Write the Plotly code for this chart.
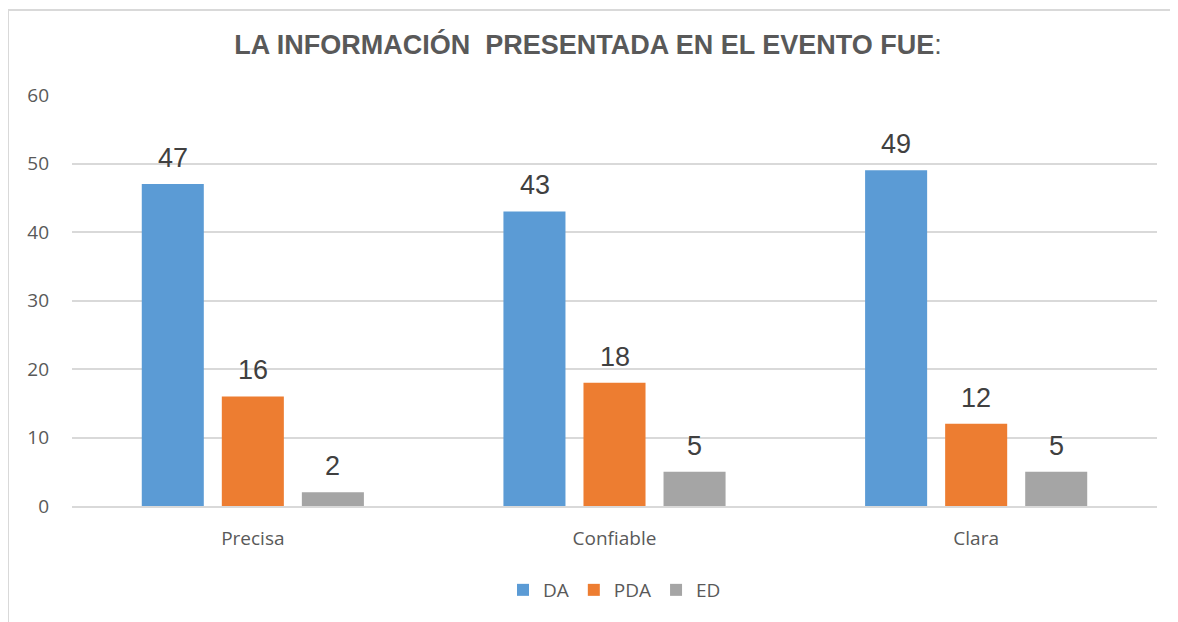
import plotly.graph_objects as go

categories = ["Precisa", "Confiable", "Clara"]
da = [47, 43, 49]
pda = [16, 18, 12]
ed = [2, 5, 5]

series = [("DA", da, "#5B9BD5"), ("PDA", pda, "#ED7D31"), ("ED", ed, "#A5A5A5")]

fig = go.Figure()
annotations = []
for i, (name, vals, color) in enumerate(series):
    fig.add_trace(
        go.Bar(
            x=categories,
            y=vals,
            name=name,
            marker=dict(color=color, line=dict(width=0)),
        )
    )
    # value labels sit a bit higher than plotly's outside text
    for cat, v in zip(categories, vals):
        annotations.append(
            dict(
                x=cat,
                y=v,
                xref="x",
                yref="y",
                text=str(v),
                showarrow=False,
                xshift=(i - 1) * 80,
                yshift=26,
                font=dict(family="Liberation Sans, Arial", size=27, color="#404040"),
            )
        )

fig.update_layout(
    width=1178,
    height=622,
    paper_bgcolor="white",
    plot_bgcolor="white",
    barmode="group",
    bargap=0.336,
    bargroupgap=0.225,
    margin=dict(l=64, r=29, t=87, b=124),
    title=dict(
        text="<b>LA INFORMACIÓN  PRESENTADA EN EL EVENTO FUE</b>:",
        x=(588 - 72) / 1085,
        xref="paper",
        xanchor="center",
        y=1 - 37 / 622,
        yanchor="middle",
        font=dict(family="Liberation Sans, Arial", size=27, color="#595959"),
    ),
    legend=dict(
        orientation="h",
        x=0.5,
        xanchor="center",
        y=-(582 - 498) / 411,
        yanchor="middle",
        font=dict(family="Open Sans, Liberation Sans", size=19, color="#595959"),
        itemwidth=30,
    ),
    font=dict(family="Open Sans, Liberation Sans", size=16, color="#595959"),
    annotations=annotations,
    shapes=[
        dict(
            type="rect",
            xref="paper",
            yref="paper",
            x0=-64 / 1085,
            x1=1.1,
            y0=-0.5,
            y1=1 + 85 / 411,
            line=dict(color="#D9D9D9", width=2),
            layer="below",
        )
    ],
)

fig.update_yaxes(
    range=[0, 60],
    dtick=10,
    showgrid=True,
    gridcolor="#D9D9D9",
    gridwidth=1.5,
    zeroline=False,
    showline=False,
    ticks="",
    ticklabelstandoff=22,
    tickfont=dict(size=19, color="#595959"),
)
fig.update_xaxes(
    showline=True,
    linecolor="#D9D9D9",
    linewidth=1.5,
    ticks="",
    ticklabelstandoff=14,
    tickfont=dict(size=19, color="#595959"),
)

fig.write_html("out.html")
